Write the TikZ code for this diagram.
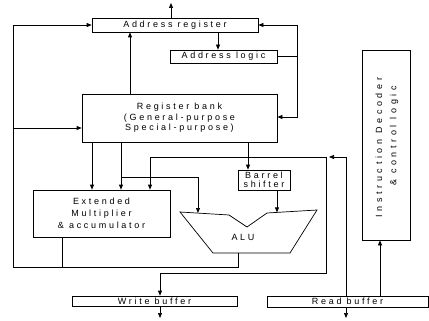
\documentclass[tikz,border=0pt]{standalone}
\usepackage{fontspec}
\setmainfont{Liberation Sans}[LetterSpace=30]
\newfontfamily\idfont{Liberation Sans}[LetterSpace=40]
\usetikzlibrary{arrows.meta}
\begin{document}
\begin{tikzpicture}[x=1pt,y=-1pt,line width=0.7pt,
  box/.style={draw,rectangle,inner sep=0pt,font=\fontsize{9}{10.5}\selectfont,align=center},
  lbl/.style={inner sep=0pt,font=\fontsize{9}{10.5}\selectfont},
  arr/.style={-{Triangle[length=5pt,width=4pt]}}]
\useasboundingbox (0,0) rectangle (429,321);
% boxes
\node[box,minimum width=166pt,minimum height=14pt] (ar) at (175,25) {Address register};
\node[box,minimum width=107pt,minimum height=13pt] (al) at (223.5,56.5) {Address logic};
\node[box,minimum width=195pt,minimum height=48pt] (rb) at (179.5,118) {Register bank\\(General-purpose\\Special-purpose)};
\node[box,minimum width=137pt,minimum height=47pt,font=\fontsize{9}{12}\selectfont] (em) at (101.5,213.5) {Extended\\Multiplier\\\& accumulator};
\node[box,minimum width=52pt,minimum height=20pt,font=\fontsize{9}{9.5}\selectfont] (bs) at (264,180) {Barrel\\shifter};
\node[box,minimum width=48pt,minimum height=190pt] (id) at (386,145) {};
\node[lbl,rotate=90,font=\idfont\fontsize{9}{10.5}\selectfont] (idt1) at (379,147.5) {Instruction Decoder};
\node[lbl,rotate=90,font=\idfont\fontsize{9}{10.5}\selectfont] (idt2) at (394,136) {\& control logic};
\node[box,minimum width=165pt,minimum height=10pt] (wb) at (154.5,301) {Write buffer};
\node[box,minimum width=161pt,minimum height=11pt] (rdb) at (347.5,301.5) {Read buffer};
% ALU
\draw (180,212) -- (229,215) -- (247,227) -- (267,213) -- (317,210) -- (290,253) -- (213,253) -- cycle;
\node[lbl] (alu) at (243,237) {ALU};
\coordinate (alub) at (238,253);
\coordinate (aluL) at (198,213);
\coordinate (aluR) at (277,212.4);
% helper coordinates
\coordinate (top) at (171,3);
\coordinate (c218) at (218,0);
\coordinate (c130) at (130,0);
\coordinate (jR) at (297,57);
\coordinate (L) at (13,267);
\coordinate (c62) at (62,0);
\coordinate (c92) at (92,0);
\coordinate (c121) at (121,0);
\coordinate (br) at (121,177);
\coordinate (c248) at (248,0);
\coordinate (bus) at (346,157);
\coordinate (btip) at (329,157);
\coordinate (c326) at (326,0);
\coordinate (c150) at (150,0);
\coordinate (wj) at (326,273);
\coordinate (c160) at (160,0);
\coordinate (wbo) at (160,318);
\coordinate (rbo) at (346,318);
\coordinate (c380) at (380,0);
% connectors
\draw[arr] (ar.north -| top) -- (top);
\draw[arr] (ar.south -| c218) -- (al.north -| c218);
\draw (al.east) -- (al.east -| jR);
\draw[arr] (al.east -| jR) |- (ar.east);
\draw[arr] (al.east -| jR) |- ([yshift=1pt]rb.east);
\draw[arr] (rb.north -| c130) -- (ar.south -| c130);
\draw[arr] (alub) -- (alub |- L) -| (ar.west -| L) -- (ar.west);
\draw[arr] ([yshift=-10pt]rb.west -| L) -- ([yshift=-10pt]rb.west);
\draw (em.south -| c62) -- (L -| c62);
\draw[arr] (rb.south -| c92) -- (em.north -| c92);
\draw[arr] (rb.south -| c121) -- (em.north -| c121);
\draw[arr] (br) -| (aluL);
\draw[arr] (rb.south -| c248) -- (bs.north -| c248);
\draw[arr] (bs.south -| aluR) -- (aluR);
\draw (rdb.north -| bus) -- (bus);
\draw[arr] (bus) -- (btip);
\draw[arr] (bus -| c326) -| (em.north -| c150);
\draw[arr] (bus -| c326) -- (wj) -| (wb.north -| c160);
\draw[arr] (wb.south -| wbo) -- (wbo);
\draw[arr] (rdb.south -| rbo) -- (rbo);
\draw[arr] (rdb.north -| c380) -- (id.south -| c380);
\end{tikzpicture}
\end{document}
